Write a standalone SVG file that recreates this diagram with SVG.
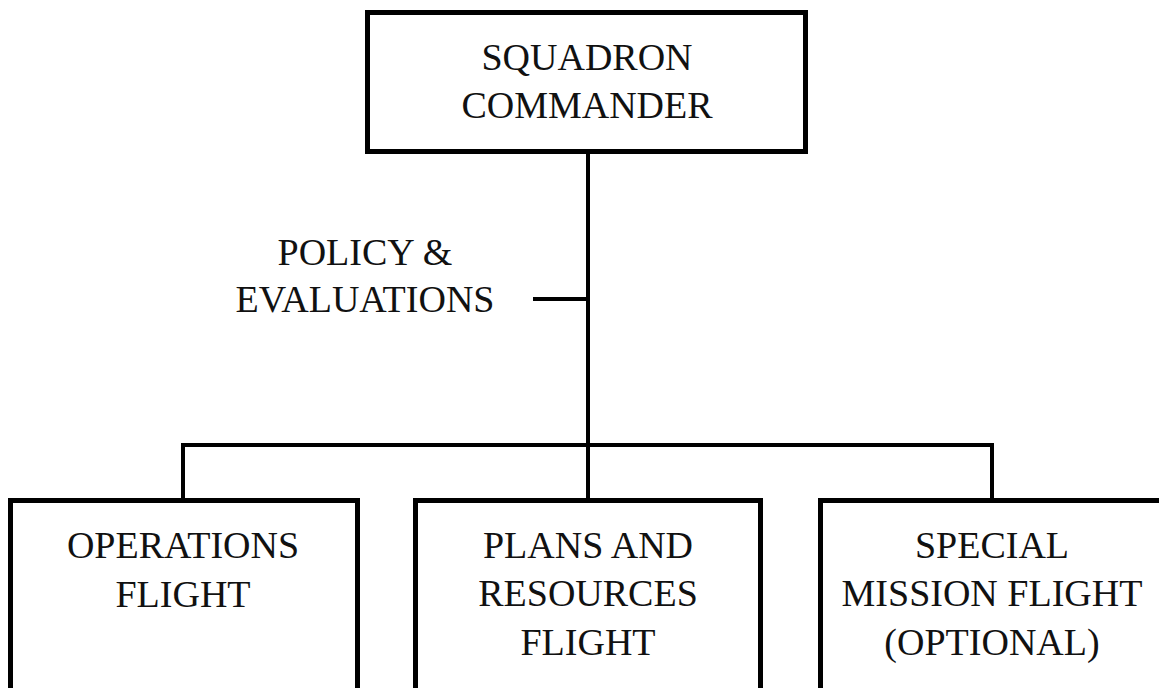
<svg xmlns="http://www.w3.org/2000/svg" width="1159" height="688" viewBox="0 0 1159 688">
<style>
.box{fill:#fff;stroke:#000;stroke-width:5}
.ln{fill:none;stroke:#000;stroke-width:4}
text{font-family:"Liberation Serif","Times New Roman",serif;font-size:38px;fill:#111;text-anchor:middle}
</style>
<rect width="1159" height="688" fill="#fff"/>
<g id="connectors">
<line class="ln" x1="588" y1="154" x2="588" y2="498"/>
<polyline class="ln" points="183,498 183,445 992,445 992,498"/>
<line class="ln" x1="533" y1="299" x2="588" y2="299"/>
</g>
<g id="policy-label">
<text x="365" y="265">POLICY &amp;</text>
<text x="365" y="312">EVALUATIONS</text>
</g>
<g id="squadron-commander">
<rect class="box" x="367.5" y="12.5" width="438" height="139"/>
<text x="587" y="70">SQUADRON</text>
<text x="587" y="118">COMMANDER</text>
</g>
<g id="operations-flight">
<rect class="box" x="10.5" y="500.5" width="347" height="220"/>
<text x="183" y="558">OPERATIONS</text>
<text x="183" y="607">FLIGHT</text>
</g>
<g id="plans-resources-flight">
<rect class="box" x="415.5" y="500.5" width="345" height="220"/>
<text x="588" y="558">PLANS AND</text>
<text x="588" y="606">RESOURCES</text>
<text x="588" y="655">FLIGHT</text>
</g>
<g id="special-mission-flight">
<rect class="box" x="820.5" y="500.5" width="360" height="220"/>
<text x="992" y="558">SPECIAL</text>
<text x="992" y="606">MISSION FLIGHT</text>
<text x="992" y="655">(OPTIONAL)</text>
</g>
</svg>
